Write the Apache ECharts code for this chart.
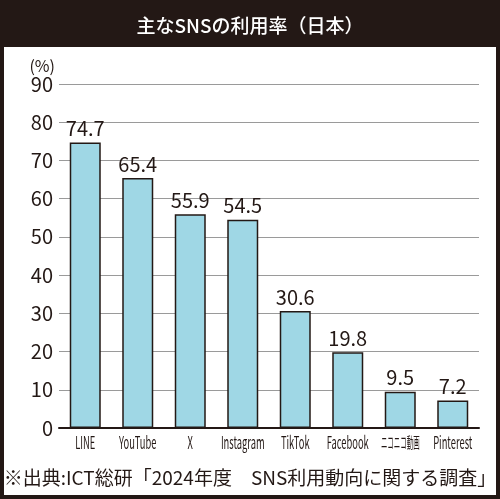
<!DOCTYPE html>
<html>
<head>
<meta charset="utf-8">
<script src="https://cdn.jsdelivr.net/npm/echarts@6/dist/echarts.min.js"></script>
<style>
  html, body { margin: 0; padding: 0; background: #fff; }
  #chart { width: 500px; height: 499px; }
</style>
</head>
<body>
<div id="chart"></div>
<script>
// Data
const categories = ['LINE', 'YouTube', 'X', 'Instagram', 'TikTok', 'Facebook', 'ニコニコ動画', 'Pinterest'];
const usageRate = [74.7, 65.4, 55.9, 54.5, 30.6, 19.8, 9.5, 7.2];
const yTicks = [0, 10, 20, 30, 40, 50, 60, 70, 80, 90];

const titleText = '主なSNSの利用率（日本）';
const sourceText = '※出典:ICT総研「2024年度　SNS利用動向に関する調査」';

(function() {
    const chart = echarts.init(document.getElementById('chart'), null, { renderer: 'canvas' });
    const jpFont = '"Noto Sans CJK JP", "Noto Sans", sans-serif';
    const ink = '#231815';

    // frame, header band and source line
    const frameGraphics = [
        {
            id: 'header', type: 'rect', z: -1,
            shape: { x: 0, y: 0, width: 500, height: 47 },
            style: { fill: ink }
        },
        {
            id: 'frame', type: 'rect', z: 10, silent: true,
            shape: { x: 0, y: 0, width: 500, height: 499 },
            style: { fill: 'none', stroke: ink, lineWidth: 8 }
        },
        {
            id: 'source', type: 'text', z: 10,
            left: 'center', top: 468,
            style: { text: sourceText, fill: ink, fontSize: 19, fontFamily: jpFont }
        }
    ];

    const option = {
        backgroundColor: '#ffffff',
        animation: false,
        title: {
            text: titleText,
            left: 'center',
            top: 11,
            textStyle: { color: '#ffffff', fontSize: 19, fontWeight: 500, fontFamily: jpFont }
        },
        grid: { left: 59, right: 21, top: 84, bottom: 71 },
        xAxis: {
            type: 'category',
            data: categories,
            axisLine: { lineStyle: { color: ink, width: 2 } },
            axisTick: { show: false },
            // labels are drawn condensed below, at positions taken from this axis
            axisLabel: { show: false }
        },
        yAxis: {
            type: 'value',
            min: yTicks[0],
            max: yTicks[yTicks.length - 1],
            interval: 10,
            name: '(%)',
            nameGap: 8,
            nameLocation: 'end',
            nameTextStyle: { color: ink, fontSize: 16, fontFamily: jpFont, align: 'right', padding: [0, 4, 0, 0] },
            axisLine: { show: false },
            axisTick: { show: false },
            axisLabel: { color: ink, fontSize: 20, margin: 6, fontFamily: jpFont },
            splitLine: { lineStyle: { color: '#9a9a9a', width: 1 } }
        },
        series: [{
            type: 'bar',
            data: usageRate,
            barWidth: 31,
            itemStyle: { color: '#9fd7e5', borderColor: ink, borderWidth: 1.5 },
            label: {
                show: true,
                position: 'top',
                distance: 4,
                color: ink,
                fontSize: 20,
                fontFamily: jpFont,
                formatter: p => p.value.toFixed(1)
            }
        }],
        graphic: frameGraphics
    };

    chart.setOption(option);

    // condensed category labels, placed through the category axis
    const baseY = chart.convertToPixel({ yAxisIndex: 0 }, 0);
    const labelGraphics = categories.map((name, i) => {
        const cx = chart.convertToPixel({ xAxisIndex: 0 }, name);
        const isCjk = /[^\x00-\x7f]/.test(name);
        return {
            id: 'cat' + i, type: 'text', z: 5,
            x: cx, y: baseY + (isCjk ? 7 : 6),
            scaleX: isCjk ? 0.43 : 0.55,
            style: {
                text: name,
                fill: ink,
                fontSize: isCjk ? 15 : 17,
                fontFamily: jpFont,
                align: 'center',
                verticalAlign: 'top'
            }
        };
    });
    chart.setOption({ graphic: frameGraphics.concat(labelGraphics) });

    window.addEventListener('resize', () => chart.resize());
})();
</script>
</body>
</html>
